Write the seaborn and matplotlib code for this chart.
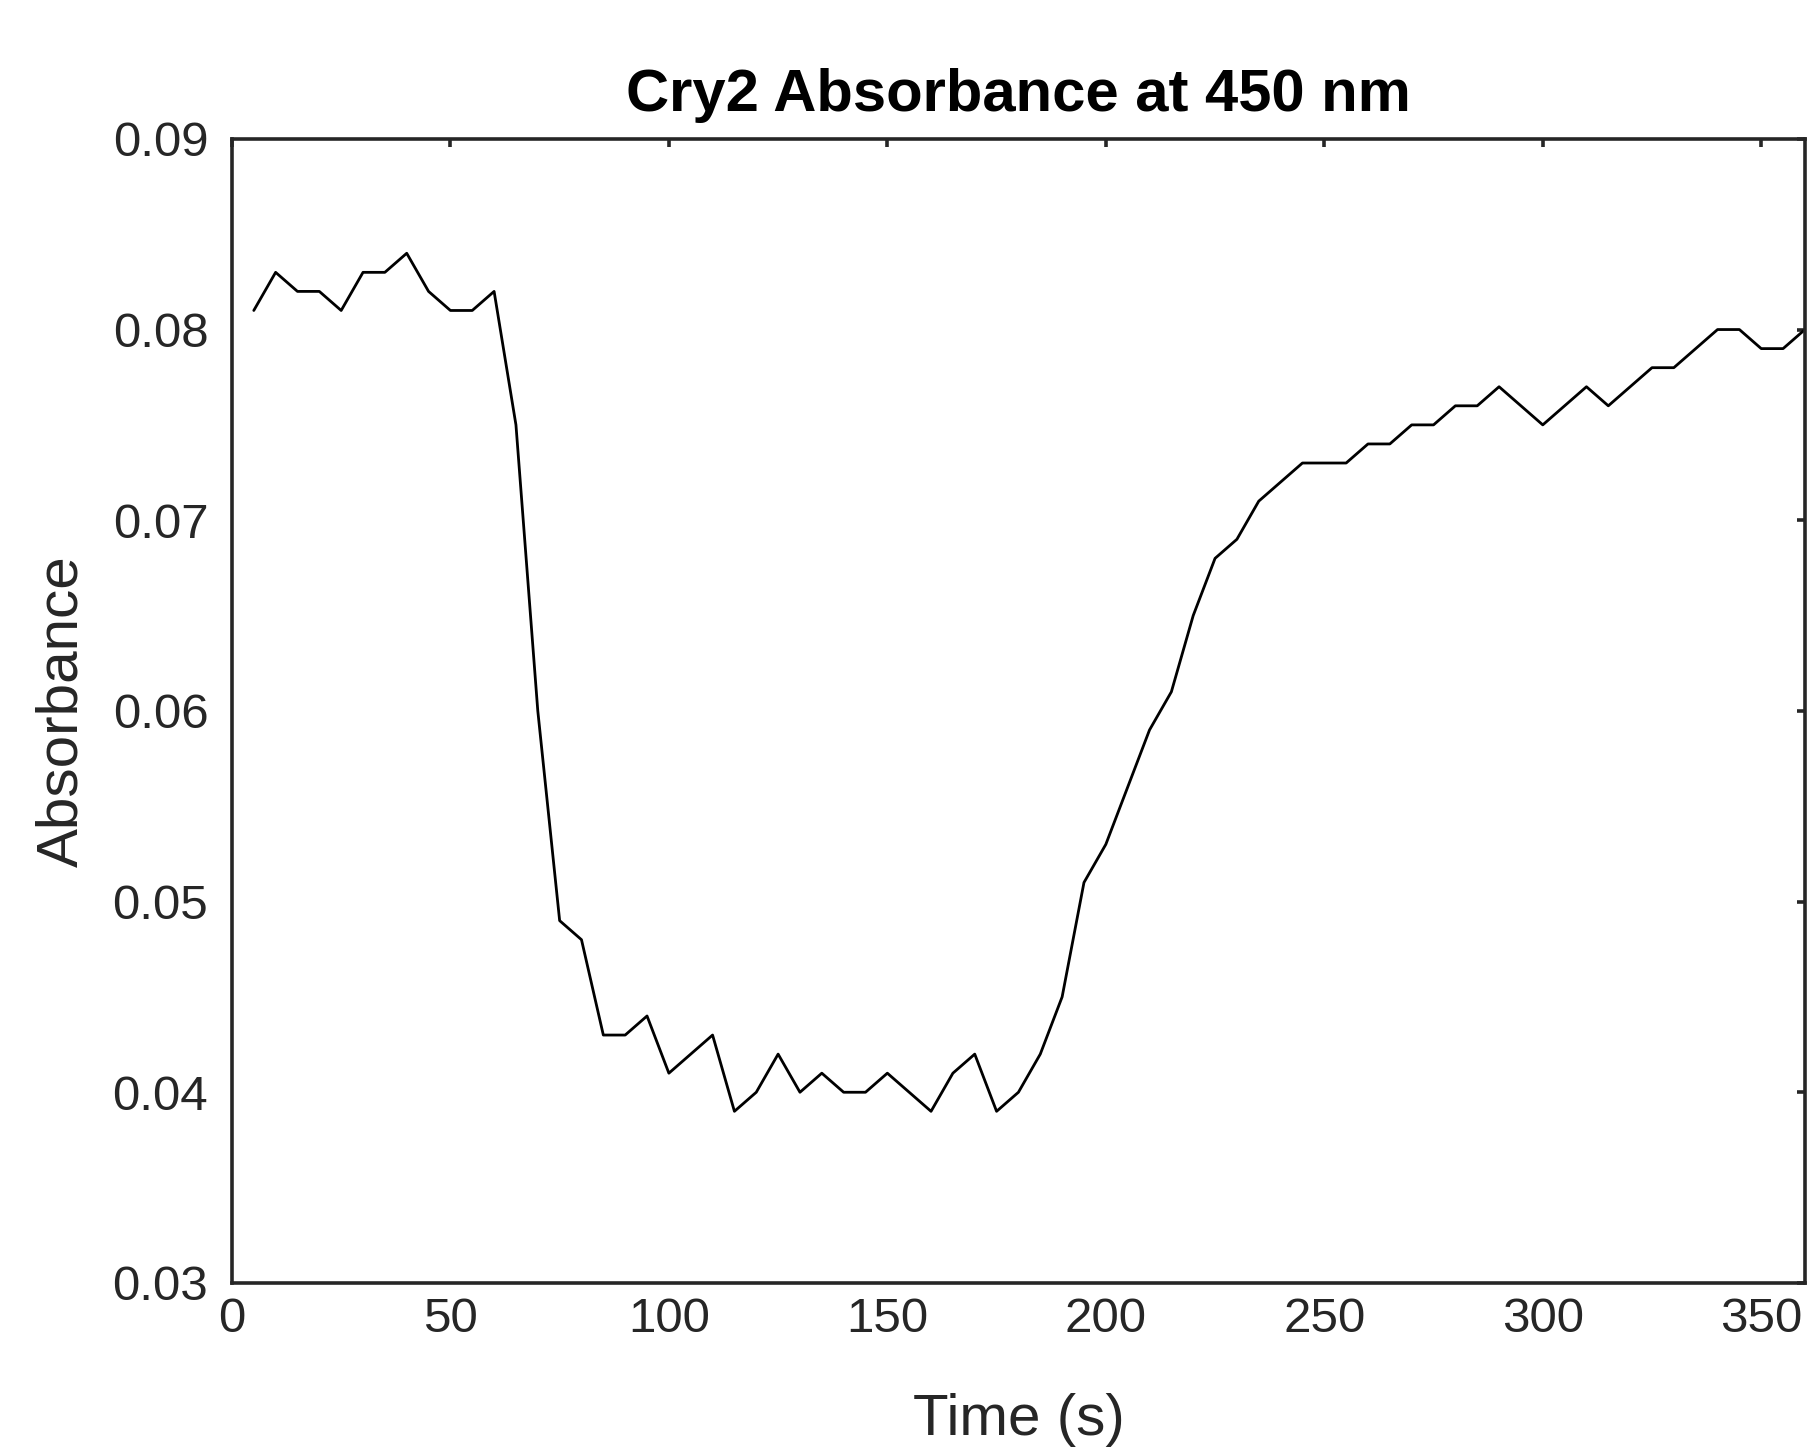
import numpy as np
import pandas as pd
import seaborn as sns
import matplotlib.pyplot as plt
from matplotlib.ticker import FormatStrFormatter

# time points (s), sampled every 5 s
time_s = [5, 10, 15, 20, 25, 30, 35, 40, 45, 50, 55, 60,
          65, 70, 75, 80, 85, 90, 95, 100, 105, 110, 115, 120,
          125, 130, 135, 140, 145, 150, 155, 160, 165, 170, 175, 180,
          185, 190, 195, 200, 205, 210, 215, 220, 225, 230, 235, 240,
          245, 250, 255, 260, 265, 270, 275, 280, 285, 290, 295, 300,
          305, 310, 315, 320, 325, 330, 335, 340, 345, 350, 355, 360]

# absorbance
absorbance = [0.081, 0.083, 0.082, 0.082, 0.081, 0.083, 0.083, 0.084, 0.082, 0.081, 0.081, 0.082,
              0.075, 0.060, 0.049, 0.048, 0.043, 0.043, 0.044, 0.041, 0.042, 0.043, 0.039, 0.040,
              0.042, 0.040, 0.041, 0.040, 0.040, 0.041, 0.040, 0.039, 0.041, 0.042, 0.039, 0.040,
              0.042, 0.045, 0.051, 0.053, 0.056, 0.059, 0.061, 0.065, 0.068, 0.069, 0.071, 0.072,
              0.073, 0.073, 0.073, 0.074, 0.074, 0.075, 0.075, 0.076, 0.076, 0.077, 0.076, 0.075,
              0.076, 0.077, 0.076, 0.077, 0.078, 0.078, 0.079, 0.080, 0.080, 0.079, 0.079, 0.080]

x_ticks = [0, 50, 100, 150, 200, 250, 300, 350]
y_ticks = [0.03, 0.04, 0.05, 0.06, 0.07, 0.08, 0.09]

sns.set_theme(style="white")
plt.rcParams['font.family'] = ['Liberation Sans', 'DejaVu Sans']

df = pd.DataFrame({"Time (s)": time_s, "Absorbance": absorbance})

fig = plt.figure(figsize=(18.12, 14.48), dpi=100)
ax = fig.add_axes([0.1280, 0.1140, 0.8681, 0.7901])

sns.lineplot(data=df, x="Time (s)", y="Absorbance", color="black", linewidth=2.0, ax=ax)

ax.set_xlim(0, 360)
ax.set_ylim(0.03, 0.09)
ax.set_xticks(x_ticks)
ax.set_yticks(y_ticks)
ax.yaxis.set_major_formatter(FormatStrFormatter('%.2f'))

dark = "#262626"
for sp in ax.spines.values():
    sp.set_visible(True)
    sp.set_color(dark)
    sp.set_linewidth(2.6)
ax.tick_params(direction="in", length=6, width=2.6, colors=dark, labelsize=35.5,
               top=True, right=True, labeltop=False, labelright=False)
ax.tick_params(axis="x", pad=10)
ax.tick_params(axis="y", pad=17)

# reference crops this label at the bottom edge; keep it just inside
ax.set_xlabel("Time (s)", fontsize=42, color=dark, labelpad=37)
ax.set_ylabel("Absorbance", fontsize=42, color=dark, labelpad=17)
ax.set_title("Cry2 Absorbance at 450 nm", fontsize=43, fontweight="bold", color="black", pad=20)

fig.savefig("out.png", dpi=100)
